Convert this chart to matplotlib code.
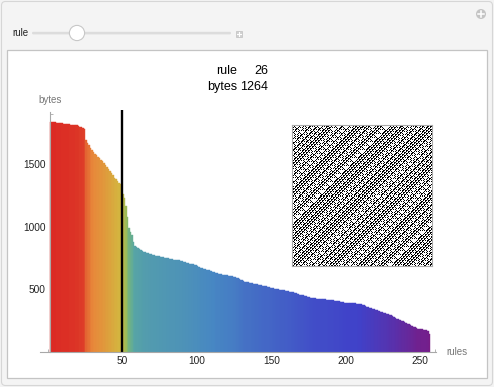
import numpy as np
import matplotlib
matplotlib.use("Agg")
import matplotlib.pyplot as plt
from matplotlib.colors import LinearSegmentedColormap
from matplotlib.patches import Rectangle, Circle, FancyBboxPatch

plt.rcParams['font.family'] = ['Liberation Sans', 'DejaVu Sans']

# ---- data ----
selected_rule = 26
selected_bytes = 1264
selected_rank = 50

bytes_sorted = [
    1840, 1838, 1836, 1834, 1832, 1830, 1829, 1828, 1826, 1824, 1823, 1822, 1821, 1819, 1817, 1815,
    1814, 1812, 1810, 1808, 1800, 1795, 1788, 1778,
    1690, 1672, 1655, 1632, 1612, 1598, 1585, 1572,
    1560, 1548, 1537, 1528, 1512, 1495, 1478, 1460,
    1445, 1428, 1410, 1392, 1378, 1365, 1352, 1340,
    1310, 1264, 1228, 1168, 1080, 990, 960, 930,
    880, 845, 838, 830, 822, 815, 808, 800,
    796, 792, 788, 785, 780, 776, 772, 769,
    766, 763, 760, 757, 754, 752, 749, 746,
    743, 740, 738, 737, 735, 734, 732, 730,
    727, 724, 720, 716, 712, 708, 705, 702,
    698, 694, 690, 684, 677, 670, 666, 663,
    659, 655, 652, 650, 645, 640, 635, 631,
    627, 624, 622, 620, 617, 615, 613, 611,
    608, 605, 602, 600, 596, 591, 586, 580,
    575, 570, 565, 560, 557, 555, 553, 550,
    548, 545, 542, 540, 537, 534, 531, 528,
    525, 522, 520, 517, 513, 510, 507, 504,
    502, 500, 497, 495, 493, 490, 487, 485,
    482, 480, 477, 474, 470, 466, 463, 460,
    457, 454, 451, 448, 445, 441, 437, 433,
    430, 427, 426, 425, 423, 422, 421, 420,
    419, 418, 417, 416, 415, 413, 411, 409,
    407, 405, 404, 401, 398, 395, 392, 390,
    389, 389, 388, 388, 387, 386, 385, 383,
    381, 380, 376, 370, 365, 360, 356, 352,
    348, 344, 340, 335, 331, 326, 321, 316,
    312, 308, 304, 300, 296, 290, 284, 278,
    272, 265, 259, 252, 248, 244, 238, 232,
    225, 219, 213, 206, 200, 194, 190, 184,
    180, 180, 178, 177, 176, 174, 165, 145,
]
ranks = np.arange(1, len(bytes_sorted) + 1)

x_major = [50, 100, 150, 200, 250]
y_major = [500, 1000, 1500]

# initial condition for the CA inset (fixed bit pattern, 140 cells)
init_hex = "b5e2917c4da03f68e1c7592ab6d3e08f1a4c7"

# ---- figure ----
W, H = 494, 387
fig = plt.figure(figsize=(W / 100, H / 100), dpi=100)
fig.patch.set_facecolor('#f3f3f3')

bg = fig.add_axes([0, 0, 1, 1])
bg.set_xlim(0, W)
bg.set_ylim(H, 0)
bg.axis('off')
bg.add_patch(FancyBboxPatch((1.5, 1.5), W - 3, H - 3, boxstyle="round,pad=0,rounding_size=4",
                            facecolor='#f4f4f4', edgecolor='#d6d6d6', lw=0.8))
bg.add_patch(Rectangle((7, 50), 480, 328, facecolor='white', edgecolor='#c4c4c4', lw=0.9))
# slider
bg.text(12, 33.5, 'rule', fontsize=7, va='center', ha='left', color='#222222')
bg.add_patch(FancyBboxPatch((32, 31.8), 199, 2.6, boxstyle="round,pad=0,rounding_size=1.3",
                            facecolor='#dcdcdc', edgecolor='none'))
bg.add_patch(Circle((77, 33), 7.6, facecolor='white', edgecolor='#c8c8c8', lw=0.8))
bg.add_patch(Rectangle((235.5, 30.5), 6.5, 6.5, facecolor='#d0d0d0', edgecolor='#c0c0c0', lw=0.5))
bg.plot([236.8, 240.7], [33.75, 33.75], color='white', lw=0.8)
bg.plot([238.75, 238.75], [31.8, 35.7], color='white', lw=0.8)
# top-right circle plus
bg.add_patch(Circle((481, 14), 5, facecolor='#c4c4c4', edgecolor='none'))
bg.plot([478, 484], [14, 14], color='white', lw=1.1)
bg.plot([481, 481], [11, 17], color='white', lw=1.1)

# title
bg.text(237, 71, 'rule', fontsize=9, ha='right', va='center')
bg.text(268, 71, str(selected_rule), fontsize=9, ha='right', va='center')
bg.text(237, 87, 'bytes', fontsize=9, ha='right', va='center')
bg.text(268, 87, str(selected_bytes), fontsize=9, ha='right', va='center')

# main axes: rank -> px = 48.1 + 1.4875*rank ; value -> py = 351.7 - 0.125*value
xl0, xl1 = -5.5, 261.0
yl0, yl1 = 0, 1935
px_left = 48.1 + 1.4875 * xl0
px_right = 48.1 + 1.4875 * xl1
py_bottom = 351.7
py_top = 351.7 - 0.125 * yl1
ax = fig.add_axes([px_left / W, (H - py_bottom) / H, (px_right - px_left) / W, (py_bottom - py_top) / H])
ax.patch.set_alpha(0)
ax.set_xlim(xl0, xl1)
ax.set_ylim(yl0, yl1)

colors_list = [
    (0.00, '#781c86'),
    (0.14, '#4042c9'),
    (0.29, '#4787c3'),
    (0.43, '#59a8a2'),
    (0.57, '#8dbd60'),
    (0.71, '#d4b53f'),
    (0.86, '#e8883a'),
    (1.00, '#db2a24'),
]
cmap = LinearSegmentedColormap.from_list('mrainbow', colors_list)
vals = np.array(bytes_sorted, dtype=float)
norm = (vals - vals.min()) / (vals.max() - vals.min())
bar_colors = cmap(norm)
ax.bar(ranks, vals, width=1.0, align='edge', color=bar_colors, edgecolor=bar_colors,
       linewidth=0.3, zorder=2)

ax.plot([selected_rank, selected_rank], [0, 1930], color='black', lw=1.7, zorder=4)

for s in ['top', 'right']:
    ax.spines[s].set_visible(False)
axis_c = '#a8a8a8'
ax.spines['left'].set_position(('data', 1))
ax.spines['left'].set_bounds(0, 1915)
ax.spines['bottom'].set_color(axis_c)
ax.spines['left'].set_color(axis_c)
ax.spines['bottom'].set_linewidth(0.8)
ax.spines['left'].set_linewidth(0.8)
ax.spines['left'].set_zorder(5)
ax.spines['bottom'].set_zorder(5)

ax.set_xticks(x_major)
ax.set_xticks([v for v in range(0, 261, 10) if v not in x_major], minor=True)
ax.set_yticks(y_major)
ax.set_yticks([v for v in range(100, 1901, 100) if v not in y_major], minor=True)
ax.tick_params(axis='both', which='major', direction='in', length=4.5, width=0.7, color=axis_c,
               labelsize=7.3, labelcolor='#222222', pad=3)
ax.tick_params(axis='both', which='minor', direction='in', length=2.5, width=0.6, color=axis_c)
ax.set_yticklabels([str(v) for v in y_major])
ax.set_xticklabels([str(v) for v in x_major])

bg.text(50, 100, 'bytes', fontsize=7, ha='center', va='center', color='#777777')
bg.text(446, 352, 'rules', fontsize=7, ha='left', va='center', color='#777777')

# ---- CA inset ----
bits = []
for ch in init_hex:
    v = int(ch, 16)
    bits.extend([(v >> k) & 1 for k in (3, 2, 1, 0)])
row = np.array(bits[:140], dtype=int)
n = len(row)
rows = [row]
for _ in range(n - 1):
    l = np.roll(row, 1)
    r = np.roll(row, -1)
    idx = 4 * l + 2 * row + r
    row = (selected_rule >> idx) & 1
    rows.append(row)
ca = np.array(rows)

iax = fig.add_axes([292 / W, (H - 266) / H, 140 / W, 141 / H])
iax.imshow(ca, cmap='gray_r', interpolation='nearest', aspect='auto')
iax.set_xticks([])
iax.set_yticks([])
for s in iax.spines.values():
    s.set_color('#aaaaaa')
    s.set_linewidth(0.8)

fig.savefig('out.png', dpi=100, facecolor=fig.get_facecolor())
